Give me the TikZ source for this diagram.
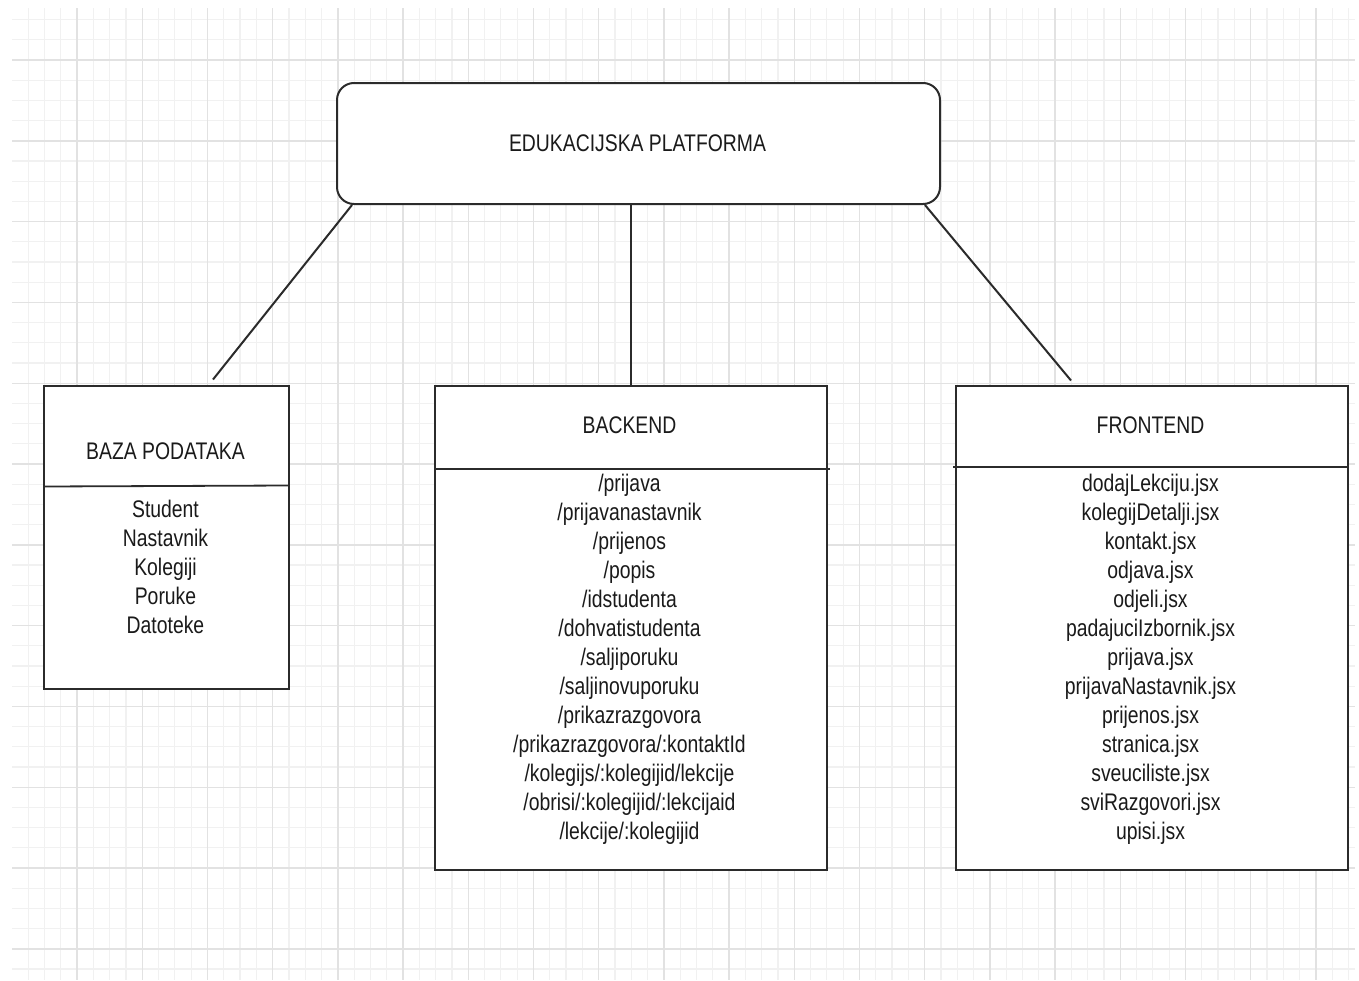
\documentclass[tikz,border=0pt]{standalone}
\usepackage{fontspec}
\setmainfont{Liberation Sans}[FakeStretch=0.807]
\definecolor{gridminor}{HTML}{F1F1F1}
\definecolor{gridmajor}{HTML}{E2E2E2}
\definecolor{edgecol}{HTML}{2B2B2B}
\definecolor{txtcol}{HTML}{1A1A1A}
\tikzset{
  gminor/.style={draw=gridminor, line width=1.2pt},
  gmajor/.style={draw=gridmajor, line width=1.4pt},
  boxnode/.style={rectangle, draw=edgecol, line width=2pt, fill=white, inner sep=0pt, outer sep=0pt, anchor=north west},
  platnode/.style={boxnode, rounded corners=17pt},
  divider/.style={draw=edgecol, line width=1.8pt},
  conn/.style={draw=edgecol, line width=2pt},
  lbl/.style={inner sep=0pt, anchor=base, text=txtcol, font=\fontsize{24}{29}\selectfont},
}
\begin{document}
\begin{tikzpicture}[x=1pt, y=-1pt]
\useasboundingbox[fill=white] (0,0) rectangle (1359,980);
% background grid
\foreach \k in {0,...,81} \draw[gminor] ({28.1+16.3*\k},8) -- ({28.1+16.3*\k},980);
\foreach \k in {0,...,47} \draw[gminor] (12,{19.6+20.2*\k}) -- (1355,{19.6+20.2*\k});
\foreach \k in {0,...,19} \draw[gmajor] ({77+65.2*\k},8) -- ({77+65.2*\k},980);
\foreach \k in {0,...,11} \draw[gmajor] (12,{60+80.8*\k}) -- (1355,{60+80.8*\k});

% top platform box
\node[platnode, minimum width=603pt, minimum height=121pt] (plat) at (337,83) {};
\node[lbl] (platt) at (637.5,151.5) {EDUKACIJSKA PLATFORMA};

% database box
\node[boxnode, minimum width=245pt, minimum height=303pt] (baza) at (43.5,386) {};
\draw[divider] (baza.west |- 0,486.5) coordinate (bz1) -- (baza.east |- 0,485.5) coordinate (bz2);
\node[lbl] (bazat) at (165.5,459.5) {BAZA PODATAKA};
\foreach \t [count=\i from 0] in {Student,Nastavnik,Kolegiji,Poruke,Datoteke}
  \node[lbl] (bz\i) at (165.5,{517.5+29.05*\i}) {\t};

% backend box
\node[boxnode, minimum width=392pt, minimum height=484pt] (back) at (434.5,386) {};
\coordinate (bk1) at (434.5,469);
\coordinate (bk2) at (830,469);
\draw[divider] (bk1) -- (bk2);
\node[lbl] (backt) at (629.5,433.5) {BACKEND};
\foreach \t [count=\i from 0] in {/prijava,/prijavanastavnik,/prijenos,/popis,/idstudenta,/dohvatistudenta,/saljiporuku,/saljinovuporuku,/prikazrazgovora,/prikazrazgovora/:kontaktId,/kolegijs/:kolegijid/lekcije,/obrisi/:kolegijid/:lekcijaid,/lekcije/:kolegijid}
  \node[lbl] (be\i) at (629.5,{491+29.08*\i}) {\t};

% frontend box
\node[boxnode, minimum width=392pt, minimum height=484pt] (front) at (955.5,386) {};
\coordinate (fr1) at (953,467);
\coordinate (fr2) at (1349,467);
\draw[divider] (fr1) -- (fr2);
\node[lbl] (frontt) at (1150.5,433.5) {FRONTEND};
\foreach \t [count=\i from 0] in {dodajLekciju.jsx,kolegijDetalji.jsx,kontakt.jsx,odjava.jsx,odjeli.jsx,padajuciIzbornik.jsx,prijava.jsx,prijavaNastavnik.jsx,prijenos.jsx,stranica.jsx,sveuciliste.jsx,sviRazgovori.jsx,upisi.jsx}
  \node[lbl] (fe\i) at (1150.5,{491+29.08*\i}) {\t};

% connectors
\coordinate (cl1) at (352,205);
\coordinate (cl2) at (213,379.5);
\coordinate (cr1) at (925,205);
\coordinate (cr2) at (1071,380.5);
\draw[conn] (cl1) -- (cl2);
\draw[conn] (back.north |- plat.south) -- (back.north);
\draw[conn] (cr1) -- (cr2);
\end{tikzpicture}
\end{document}
